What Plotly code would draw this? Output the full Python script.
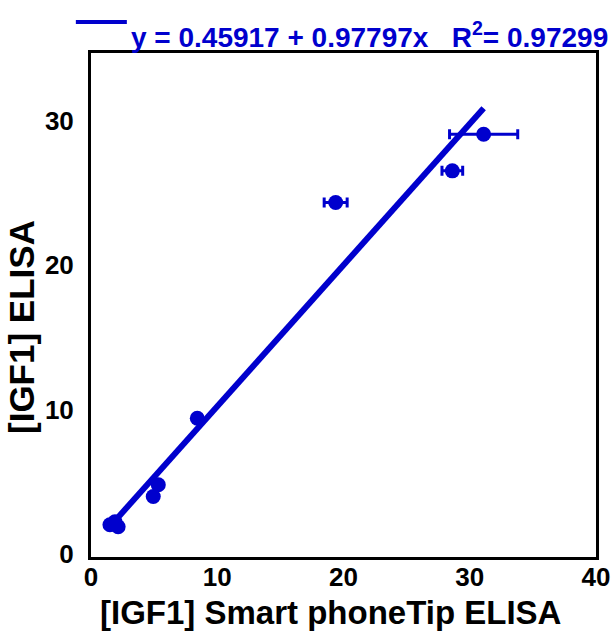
import plotly.graph_objects as go

# Measured IGF1 concentrations: smartphone-tip ELISA (x) vs reference ELISA (y)
phone_tip = [1.5, 1.9, 2.15, 4.93, 5.33, 8.42, 19.38, 28.62, 31.1]
elisa = [2.04, 2.25, 1.9, 4.0, 4.81, 9.42, 24.35, 26.54, 29.08]
phone_tip_err = [0, 0, 0, 0, 0, 0, 0.91, 0.82, 2.7]

# Linear fit reported on the chart
intercept = 0.45917
slope = 0.97797
r_squared = 0.97299

x_ticks = [0, 10, 20, 30, 40]
y_ticks = [0, 10, 20, 30]

x_title = "[IGF1] Smart phoneTip ELISA"
y_title = "[IGF1] ELISA"

BLUE = "#0000CD"
FONT = "Liberation Sans, Arial, sans-serif"

fit_x = [min(phone_tip), max(phone_tip)]
fit_y = [intercept + slope * v for v in fit_x]

fig = go.Figure()

fig.add_trace(go.Scatter(
    x=fit_x, y=fit_y, mode="lines",
    line=dict(color=BLUE, width=6),
    showlegend=False, hoverinfo="skip",
))

fig.add_trace(go.Scatter(
    x=phone_tip, y=elisa, mode="markers",
    marker=dict(color=BLUE, size=15, symbol="circle"),
    error_x=dict(type="data", array=phone_tip_err, visible=True,
                 color=BLUE, thickness=3, width=5),
    showlegend=False,
))

# Equation label with a short line sample before it
fig.add_shape(type="line", xref="paper", yref="paper",
              x0=-0.03, x1=0.071, y0=1.0615, y1=1.0615,
              line=dict(color=BLUE, width=4))
fig.add_annotation(
    xref="paper", yref="paper", x=0.075, y=1.036,
    xanchor="left", yanchor="middle", showarrow=False,
    text=f"y = {intercept:.5f} + {slope:.5f}x   R<sup>2</sup>= {r_squared:.5f}",
    font=dict(family=FONT, size=28, color=BLUE, weight="bold"),
)

# Axis titles placed as annotations so the plot box stays fixed
fig.add_annotation(
    xref="paper", yref="paper", x=0.475, y=-0.111,
    xanchor="center", yanchor="middle", showarrow=False,
    text=x_title,
    font=dict(family=FONT, size=33, color="black", weight="bold"),
)
fig.add_annotation(
    xref="paper", yref="paper", x=-0.139, y=0.456,
    xanchor="center", yanchor="middle", showarrow=False, textangle=-90,
    text=y_title,
    font=dict(family=FONT, size=35, color="black", weight="bold"),
)

fig.update_layout(
    width=613, height=637,
    margin=dict(l=91, r=17, t=53, b=80, autoexpand=False),
    paper_bgcolor="white", plot_bgcolor="white",
    font=dict(family=FONT, color="black", weight="bold"),
)

fig.update_xaxes(
    range=[0, 40], tickvals=x_ticks, ticks="", automargin=False,
    showgrid=False, zeroline=False,
    showline=True, linecolor="black", linewidth=3, mirror=True,
    tickfont=dict(family=FONT, size=26, color="black", weight="bold"),
    ticklabelstandoff=-5,
)
fig.update_yaxes(
    range=[-0.19, 34.7], tickvals=y_ticks, ticks="", automargin=False,
    showgrid=False, zeroline=False,
    showline=True, linecolor="black", linewidth=3, mirror=True,
    tickfont=dict(family=FONT, size=26, color="black", weight="bold"),
    ticklabelstandoff=9,
)

fig.write_html("out.html")
